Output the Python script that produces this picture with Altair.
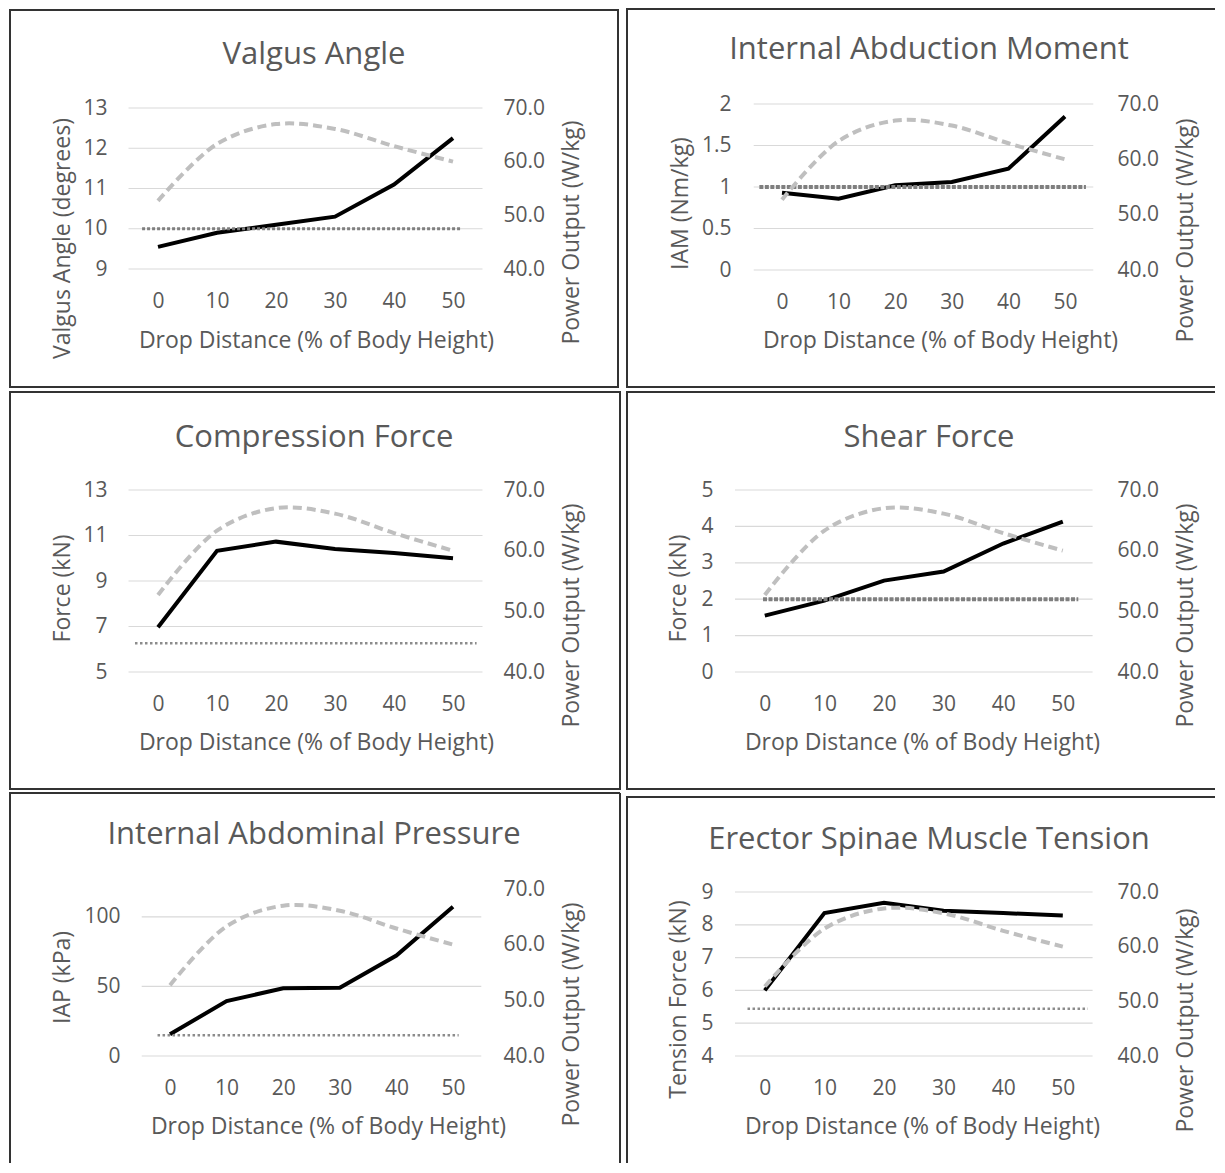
import altair as alt
import pandas as pd

# ---------------- data ----------------
drop = [0, 10, 20, 30, 40, 50]
power = [52.7, 63.3, 67.0, 66.1, 62.9, 60.0]
power_ticks = [40, 50, 60, 70]

titles = ["Valgus Angle", "Internal Abduction Moment", "Compression Force",
          "Shear Force", "Internal Abdominal Pressure", "Erector Spinae Muscle Tension"]
ylabels = ["Valgus Angle (degrees)", "IAM (Nm/kg)", "Force (kN)",
           "Force (kN)", "IAP (kPa)", "Tension Force (kN)"]

valgus = [9.55, 9.9, 10.1, 10.3, 11.1, 12.25]
iam = [0.93, 0.86, 1.02, 1.06, 1.22, 1.85]
compression = [6.97, 10.33, 10.73, 10.41, 10.23, 10.0]
shear = [1.55, 1.96, 2.51, 2.76, 3.53, 4.13]
iap = [15.6, 39.5, 48.6, 49.0, 72.2, 107.2]
erector = [6.0, 8.36, 8.67, 8.43, 8.36, 8.28]
series = [valgus, iam, compression, shear, iap, erector]

thresholds = [10.0, 1.0, 6.26, 2.0, 15.0, 5.44]
threshold_x = [[-2.7, 51.5], [-4.0, 53.7], [-3.9, 54.0], [-0.3, 52.6], [-2.2, 51.0], [-2.9, 54.2]]
x_domain = [-5, 55]
y_domains = [[9, 13], [0, 2], [5, 13], [0, 5], [0, 120], [4, 9]]
y_ticks = [[9, 10, 11, 12, 13], [0, 0.5, 1, 1.5, 2], [5, 7, 9, 11, 13],
           [0, 1, 2, 3, 4, 5], [0, 50, 100], [4, 5, 6, 7, 8, 9]]
power_domain = [40, 70]

# ---------------- layout (page pixel geometry) ----------------
FONT = "Open Sans"
TXT = "#595959"
TITLE_SIZE = 31
AXT_SIZE = 23
LAB_SIZE = 21
BORDER = "#333333"

# cell = area given to each panel; box = its visible frame (open sides are cut off by the page)
geo = [
    dict(px0=128.5, py0=108, W=354, H=161, cell=(8, 8, 622, 390), box=(10, 10, 618, 387), open_r=False, open_b=False,
         lab_l=21.5, ttl_lx=62, ttl_ly=238, lab_r=20.5, ttl_rx=571, ttl_ry=232, xlab=21, xttl_y=340, xttl_cx=316,
         title=(314, 55), dot=(3, [3, 2], "#7f7f7f")),
    dict(px0=753.7, py0=104, W=339.6, H=166, cell=(622, 8, 1216, 390), box=(627, 8, 1215, 387), open_r=True, open_b=False,
         lab_l=22.7, ttl_lx=680, ttl_ly=203, lab_r=23.7, ttl_rx=1185, ttl_ry=230, xlab=21, xttl_y=340, xttl_cx=940,
         title=(929, 50), dot=(4, [4, 1.5], "#7f7f7f")),
    dict(px0=128.5, py0=490, W=354, H=182, cell=(8, 390, 622, 791), box=(10, 392, 620, 789), open_r=False, open_b=False,
         lab_l=21.5, ttl_lx=62, ttl_ly=588, lab_r=20.5, ttl_rx=571, ttl_ry=615, xlab=21, xttl_y=742, xttl_cx=316,
         title=(314, 438), dot=(2.5, [2.5, 2.5], "#8c8c8c")),
    dict(px0=735, py0=490, W=357.6, H=182, cell=(622, 390, 1216, 791), box=(627, 392, 1215, 789), open_r=True, open_b=False,
         lab_l=22, ttl_lx=678, ttl_ly=588, lab_r=24.4, ttl_rx=1185, ttl_ry=615, xlab=21, xttl_y=742, xttl_cx=922,
         title=(929, 438), dot=(4, [4, 1.5], "#7f7f7f")),
    dict(px0=141.7, py0=889, W=339.6, H=167, cell=(8, 791, 622, 1164), box=(10, 793, 620, 1163), open_r=False, open_b=True,
         lab_l=21.7, ttl_lx=62, ttl_ly=977, lab_r=21.7, ttl_rx=571, ttl_ry=1014, xlab=21, xttl_y=1126, xttl_cx=328,
         title=(314, 835), dot=(2.5, [2.5, 2.5], "#8c8c8c")),
    dict(px0=735, py0=892, W=357.6, H=164, cell=(622, 791, 1216, 1164), box=(627, 797, 1215, 1163), open_r=True, open_b=True,
         lab_l=22, ttl_lx=678, ttl_ly=999, lab_r=24.4, ttl_rx=1185, ttl_ry=1020, xlab=21, xttl_y=1126, xttl_cx=922,
         title=(929, 840), dot=(2.5, [2.5, 2.5], "#8c8c8c")),
]

one = pd.DataFrame({"k": [0]})


def frame_layers(g):
    cx0, cy0 = g["cell"][0], g["cell"][1]
    x0, y0, x1, y1 = g["box"]
    x0, y0, x1, y1 = x0 - cx0, y0 - cy0, x1 - cx0, y1 - cy0
    if not g["open_r"] and not g["open_b"]:
        return [alt.Chart(one).mark_rect(fillOpacity=0, stroke=BORDER, strokeWidth=2).encode(
            x=alt.value(x0), x2=alt.value(x1), y=alt.value(y0), y2=alt.value(y1))]
    y0 = max(y0, 1)
    segs = [(x0 - 1, y0, x1, y0), (x0, y0, x0, y1)]
    if not g["open_r"]:
        segs.append((x1, y0, x1, y1))
    if not g["open_b"]:
        segs.append((x0 - 1, y1, x1, y1))
    return [alt.Chart(one).mark_rule(color=BORDER, strokeWidth=2).encode(
        x=alt.value(a), y=alt.value(b), x2=alt.value(c), y2=alt.value(d)) for a, b, c, d in segs]


def panel(i):
    g = geo[i]
    cx0, cy0, cx1, cy1 = g["cell"]
    px0, py0, W, H = g["px0"], g["py0"], g["W"], g["H"]
    CW, CH = cx1 - cx0, cy1 - cy0
    left, right = px0 - cx0, px0 + W - cx0
    top, bottom = py0 - cy0, py0 + H - cy0

    df = pd.DataFrame({"x": drop, "value": series[i], "power": power})
    tdf = pd.DataFrame({"x": [threshold_x[i][0]], "x1": [threshold_x[i][1]], "t": [thresholds[i]]})
    gdf = pd.DataFrame({"x": [x_domain[0]] * len(y_ticks[i]), "x1": [x_domain[1]] * len(y_ticks[i]),
                        "g": y_ticks[i]})

    xscale = alt.Scale(domain=x_domain, range=[left, right], nice=False, zero=False)
    yscale = alt.Scale(domain=y_domains[i], range=[bottom, top], nice=False, zero=False)
    pscale = alt.Scale(domain=power_domain, range=[bottom, top], nice=False, zero=False)

    bounds = alt.Chart(one).mark_rect(opacity=0).encode(
        x=alt.value(0), x2=alt.value(CW), y=alt.value(0), y2=alt.value(CH))
    ttl = alt.Chart(one).mark_text(text=titles[i], font=FONT, fontSize=TITLE_SIZE, color=TXT,
                                   align="center", baseline="middle").encode(
        x=alt.value(g["title"][0] - cx0), y=alt.value(g["title"][1] - cy0))

    left_axis = alt.Axis(orient="left", offset=-left, values=y_ticks[i], format=".1~f", grid=False,
                         domain=False, ticks=False,
                         labelPadding=g["lab_l"], labelFont=FONT, labelFontSize=LAB_SIZE, labelColor=TXT,
                         title=ylabels[i], titleFont=FONT, titleFontSize=AXT_SIZE, titleColor=TXT,
                         titleFontWeight="normal", titleAngle=270, titleAlign="center",
                         titleBaseline="middle", titleX=g["ttl_lx"] - px0, titleY=g["ttl_ly"] - cy0)
    right_axis = alt.Axis(orient="right", offset=right - CW, values=power_ticks, format=".1f", grid=False,
                          domain=False, ticks=False, labelPadding=g["lab_r"], labelFont=FONT,
                          labelFontSize=LAB_SIZE, labelColor=TXT, title="Power Output (W/kg)",
                          titleFont=FONT, titleFontSize=AXT_SIZE, titleColor=TXT, titleFontWeight="normal",
                          titleAngle=270, titleAlign="center", titleBaseline="middle",
                          titleX=g["ttl_rx"] - (px0 + W), titleY=g["ttl_ry"] - cy0)
    x_axis = alt.Axis(orient="bottom", offset=bottom - CH, values=drop, grid=False, domain=False, ticks=False,
                      labelPadding=g["xlab"], labelFont=FONT, labelFontSize=LAB_SIZE, labelColor=TXT,
                      labelFlush=False, labelOverlap=False,
                      title="Drop Distance (% of Body Height)", titleFont=FONT, titleFontSize=AXT_SIZE,
                      titleColor=TXT, titleFontWeight="normal", titleAlign="center",
                      titleBaseline="middle", titleX=g["xttl_cx"] - cx0,
                      titleY=g["xttl_y"] - (py0 + H))

    grid = alt.Chart(gdf).mark_rule(color="#d9d9d9", strokeWidth=1.2).encode(
        x=alt.X("x:Q", scale=xscale, axis=x_axis), x2="x1:Q",
        y=alt.Y("g:Q", scale=yscale, axis=None))
    black = alt.Chart(df).mark_line(color="black", strokeWidth=4).encode(
        x=alt.X("x:Q", scale=xscale, axis=x_axis),
        y=alt.Y("value:Q", scale=yscale, axis=left_axis))
    dw, dd, dc = g["dot"]
    thr = alt.Chart(tdf).mark_rule(color=dc, strokeWidth=dw, strokeDash=dd).encode(
        x=alt.X("x:Q", scale=xscale, axis=x_axis), x2="x1:Q",
        y=alt.Y("t:Q", scale=yscale, axis=None))
    pw = alt.Chart(df).mark_line(color="#bfbfbf", strokeWidth=4, strokeDash=[9, 5],
                                 interpolate="catmull-rom").encode(
        x=alt.X("x:Q", scale=xscale, axis=x_axis),
        y=alt.Y("power:Q", scale=pscale, axis=right_axis))

    layers = [bounds] + frame_layers(g) + [ttl, grid, black, thr, pw]
    return alt.layer(*layers).resolve_scale(y="independent").properties(width=CW, height=CH)


rows = [alt.hconcat(panel(2 * r), panel(2 * r + 1), spacing=0) for r in range(3)]
chart = alt.vconcat(*rows, spacing=0).properties(
    padding={"left": 0, "top": 0, "right": 0, "bottom": 0}
).configure_view(strokeWidth=0)

chart.save("out.html", embed_options={"renderer": "svg", "actions": False})
